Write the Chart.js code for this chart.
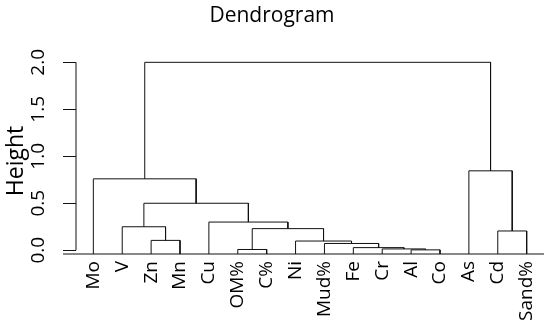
<!DOCTYPE html>
<html>
<head>
<meta charset="utf-8">
<script src="https://cdn.jsdelivr.net/npm/chart.js@4.4.0/dist/chart.umd.min.js"></script>
<style>
  html, body { margin: 0; padding: 0; background: #fff; }
  #wrap { width: 550px; height: 326px; }
</style>
</head>
<body>
<div id="wrap"><canvas id="dendro"></canvas></div>
<script>
// leaves, left to right as plotted
const leaves = ['Mo', 'V', 'Zn', 'Mn', 'Cu', 'OM%', 'C%', 'Ni', 'Mud%', 'Fe', 'Cr', 'Al', 'Co', 'As', 'Cd', 'Sand%'];
// hclust style merges: negative = leaf number, positive = earlier merge row
const merges = [
  [-12, -13], [-6, -7], [-11, 1], [-10, 3], [-9, 4], [-8, 5], [-3, -4], [-15, -16],
  [2, 6], [-2, 7], [-5, 9], [10, 11], [-1, 12], [-14, 8], [13, 14]
];
const heights = [0.004, 0.008, 0.014, 0.028, 0.072, 0.098, 0.105, 0.205, 0.23, 0.25, 0.30, 0.50, 0.76, 0.845, 2.0];
const yTicks = [0, 0.5, 1, 1.5, 2];

const FONT = "'Open Sans', sans-serif";
const leafFloor = -0.04; // leaves hang down to the baseline

// build the U shaped links
const nodes = [];
function node(ref) {
  return ref < 0 ? { x: -ref, h: leafFloor } : nodes[ref - 1];
}
const datasets = merges.map(([a, b], i) => {
  const l = node(a), r = node(b), h = heights[i];
  nodes.push({ x: (l.x + r.x) / 2, h });
  return {
    data: [{ x: l.x, y: l.h }, { x: l.x, y: h }, { x: r.x, y: h }, { x: r.x, y: r.h }],
    showLine: true,
    borderColor: '#111',
    borderWidth: 1,
    pointRadius: 0,
    tension: 0,
    clip: false
  };
});

// y axis line only between first and last tick, the baseline, and the y title
const axisLines = {
  id: 'axisLines',
  afterDraw(chart) {
    const { ctx, chartArea: ca, scales: { y } } = chart;
    ctx.save();
    ctx.strokeStyle = '#111';
    ctx.lineWidth = 1;
    ctx.beginPath();
    ctx.moveTo(ca.left, y.getPixelForValue(yTicks[0]));
    ctx.lineTo(ca.left, y.getPixelForValue(yTicks[yTicks.length - 1]));
    ctx.moveTo(ca.left - 13, ca.bottom);
    ctx.lineTo(ca.right, ca.bottom);
    ctx.stroke();

    // "Height", centred a bit below the middle like the R plot
    ctx.translate(22.5, 161);
    ctx.rotate(-Math.PI / 2);
    ctx.fillStyle = '#000';
    ctx.font = '23px ' + FONT;
    ctx.textAlign = 'center';
    ctx.textBaseline = 'alphabetic';
    ctx.fillText('Height', 0, 0);
    ctx.restore();
  }
};

new Chart(document.getElementById('dendro'), {
  type: 'scatter',
  data: { datasets },
  options: {
    responsive: true,
    maintainAspectRatio: false,
    animation: false,
    layout: { padding: { left: 0, right: 6, top: 0, bottom: 0 } },
    plugins: {
      legend: { display: false },
      tooltip: { enabled: false },
      title: {
        display: true,
        text: 'Dendrogram',
        color: '#000',
        font: { family: FONT, size: 21, weight: 'normal' },
        padding: { top: 3, bottom: 26.6 }
      }
    },
    scales: {
      x: {
        type: 'linear',
        min: 0.4,
        max: 16.6,
        afterBuildTicks: (s) => { s.ticks = leaves.map((_, i) => ({ value: i + 1 })); },
        afterFit: (s) => { s.height = 72; s.paddingLeft = 0; s.paddingRight = 0; },
        grid: { display: false, drawTicks: false },
        border: { display: false },
        ticks: {
          autoSkip: false,
          minRotation: 90,
          maxRotation: 90,
          padding: 7,
          color: '#000',
          font: { family: FONT, size: 19 },
          callback: (v) => leaves[v - 1]
        }
      },
      y: {
        min: leafFloor,
        max: 2.08,
        afterBuildTicks: (s) => { s.ticks = yTicks.map((v) => ({ value: v })); },
        afterFit: (s) => { s.width = 76; s.paddingTop = 0; s.paddingBottom = 0; },
        grid: { display: true, drawOnChartArea: false, drawTicks: true, tickLength: 13, color: '#111' },
        border: { display: false },
        ticks: {
          minRotation: 90,
          maxRotation: 90,
          crossAlign: 'center',
          padding: 11,
          color: '#000',
          font: { family: FONT, size: 19 },
          callback: (v) => v.toFixed(1)
        }
      }
    }
  },
  plugins: [axisLines]
});
</script>
</body>
</html>
